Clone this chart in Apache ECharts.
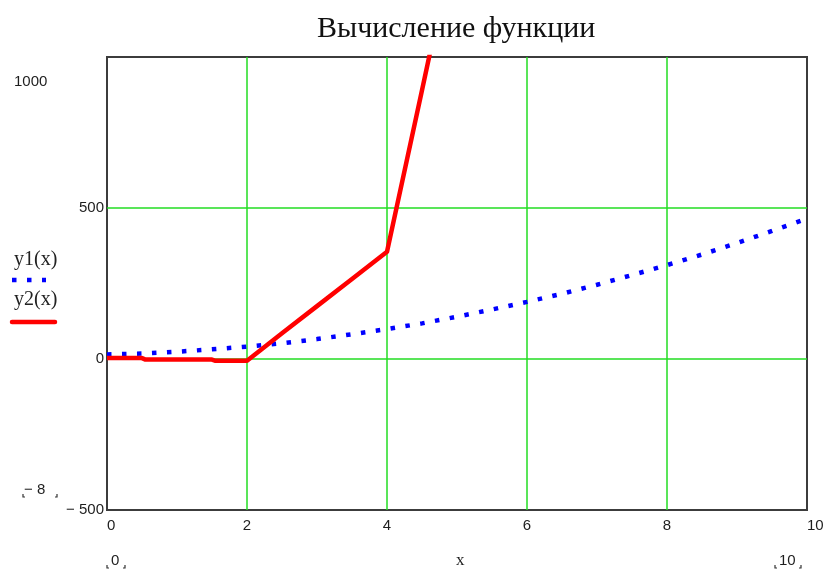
<!DOCTYPE html>
<html>
<head>
<meta charset="utf-8">
<style>html,body{margin:0;padding:0;background:#fff}#c{width:823px;height:572px}</style>
<script src="https://cdn.jsdelivr.net/npm/echarts@6/dist/echarts.min.js"></script>
</head>
<body>
<div id="c"></div>
<script>
const titleText = 'Вычисление функции';
const y1Name = 'y1(x)';
const y2Name = 'y2(x)';
const xName = 'x';
const x1 = [0,0.5,1,1.5,2,2.5,3,3.5,4,4.5,5,5.5,6,6.5,7,7.5,8,8.5,9,9.5,10];
const y1 = [15,18,24,32,41,52,66,82,99,118,140,164,189,216,246,278,311,346,384,424,465];
const x2 = [0,0.5,0.55,1.5,1.55,2,2.5,3,3.5,4,4.5,5];
const y2 = [3,3,-2,-2,-6,-6,85,175,265,355,890,1430];
const xTicks = [0,2,4,6,8,10];
const yTicks = [-500,0,500,1000];
const yMinPlaceholder = '− 8';
const xMinPlaceholder = '0';
const xMaxPlaceholder = '10';

const chart = echarts.init(document.getElementById('c'));
const sans = '"Liberation Sans", Arial, sans-serif';
const serif = '"Liberation Serif", "Times New Roman", serif';
const txtColor = '#1e1e1e';

function bracket(cx, cy, w) {
  const l = cx - w / 2, r = cx + w / 2;
  return [
    {type:'polyline', shape:{points:[[l,cy-3],[l,cy],[l+2,cy]]}, style:{stroke:'#333', lineWidth:1.2, fill:null}},
    {type:'polyline', shape:{points:[[r-2,cy],[r,cy],[r,cy-3]]}, style:{stroke:'#333', lineWidth:1.2, fill:null}}
  ];
}

chart.setOption({
  animation: false,
  title: {
    text: titleText, left: 312, top: 9,
    textStyle: {fontFamily: serif, fontSize: 30, fontWeight: 'normal', color: '#111'}
  },
  grid: {left: 107, right: 16, top: 57, bottom: 62, outerBoundsMode: 'none', containLabel: false,
         show: true, borderColor: '#3c3c3c', borderWidth: 2, backgroundColor: 'transparent'},
  xAxis: {
    type: 'value', min: 0, max: 10, interval: 2,
    axisLine: {show: false}, axisTick: {show: false},
    splitLine: {show: true, showMinLine: false, showMaxLine: false, lineStyle: {color: '#22dd22', width: 1.5}},
    axisLabel: {
      fontFamily: sans, fontSize: 15, color: txtColor, margin: 8, hideOverlap: false,
      alignMinLabel: 'left', alignMaxLabel: 'left',
      formatter: v => xTicks.includes(v) ? String(v) : ''
    }
  },
  yAxis: {
    type: 'value', min: -500, max: 1000, interval: 500,
    axisLine: {show: false}, axisTick: {show: false},
    splitLine: {show: true, showMinLine: false, showMaxLine: false, lineStyle: {color: '#22dd22', width: 1.5}},
    axisLabel: {
      fontFamily: sans, fontSize: 15, color: txtColor, margin: 3,
      formatter: v => v === 1000 ? '' : (v < 0 ? '− ' + Math.abs(v) : String(v))
    }
  },
  series: [
    {
      name: y1Name, type: 'line', symbol: 'none', clip: true, z: 3,
      data: x1.map((x, i) => [x, y1[i]]),
      lineStyle: {color: '#0000ff', width: 4.5, type: [4.5, 10.5], cap: 'butt'}
    },
    {
      name: y2Name, type: 'line', symbol: 'none', clip: true, z: 4,
      data: x2.map((x, i) => [x, y2[i]]),
      lineStyle: {color: '#ff0000', width: 4.5, join: 'round'}
    }
  ],
  graphic: [
    {type:'text', left: 14, top: 74, style:{text: String(yTicks[3]), font: '15px ' + sans, fill: txtColor}},
    {type:'text', left: 14, top: 250, style:{text: y1Name, font: '20px ' + serif, fill: '#222'}},
    {type:'line', shape:{x1: 12, y1: 280, x2: 46, y2: 280}, style:{stroke:'#0000ff', lineWidth: 4.5, lineDash:[4.5, 10.5], lineCap:'butt'}},
    {type:'text', left: 14, top: 290, style:{text: y2Name, font: '20px ' + serif, fill: '#222'}},
    {type:'line', shape:{x1: 12, y1: 322, x2: 55, y2: 322}, style:{stroke:'#ff0000', lineWidth: 4.5, lineCap:'round'}},
    {type:'text', left: 24, top: 482, style:{text: yMinPlaceholder, font: '15px ' + sans, fill: txtColor}},
    ...bracket(40, 497, 34),
    {type:'text', left: 456, top: 552, style:{text: xName, font: '17px ' + serif, fill: txtColor}},
    {type:'text', left: 111, top: 553, style:{text: xMinPlaceholder, font: '15px ' + sans, fill: txtColor}},
    ...bracket(116, 568, 18),
    {type:'text', left: 779, top: 553, style:{text: xMaxPlaceholder, font: '15px ' + sans, fill: txtColor}},
    ...bracket(788, 568, 26)
  ]
});
</script>
</body>
</html>
